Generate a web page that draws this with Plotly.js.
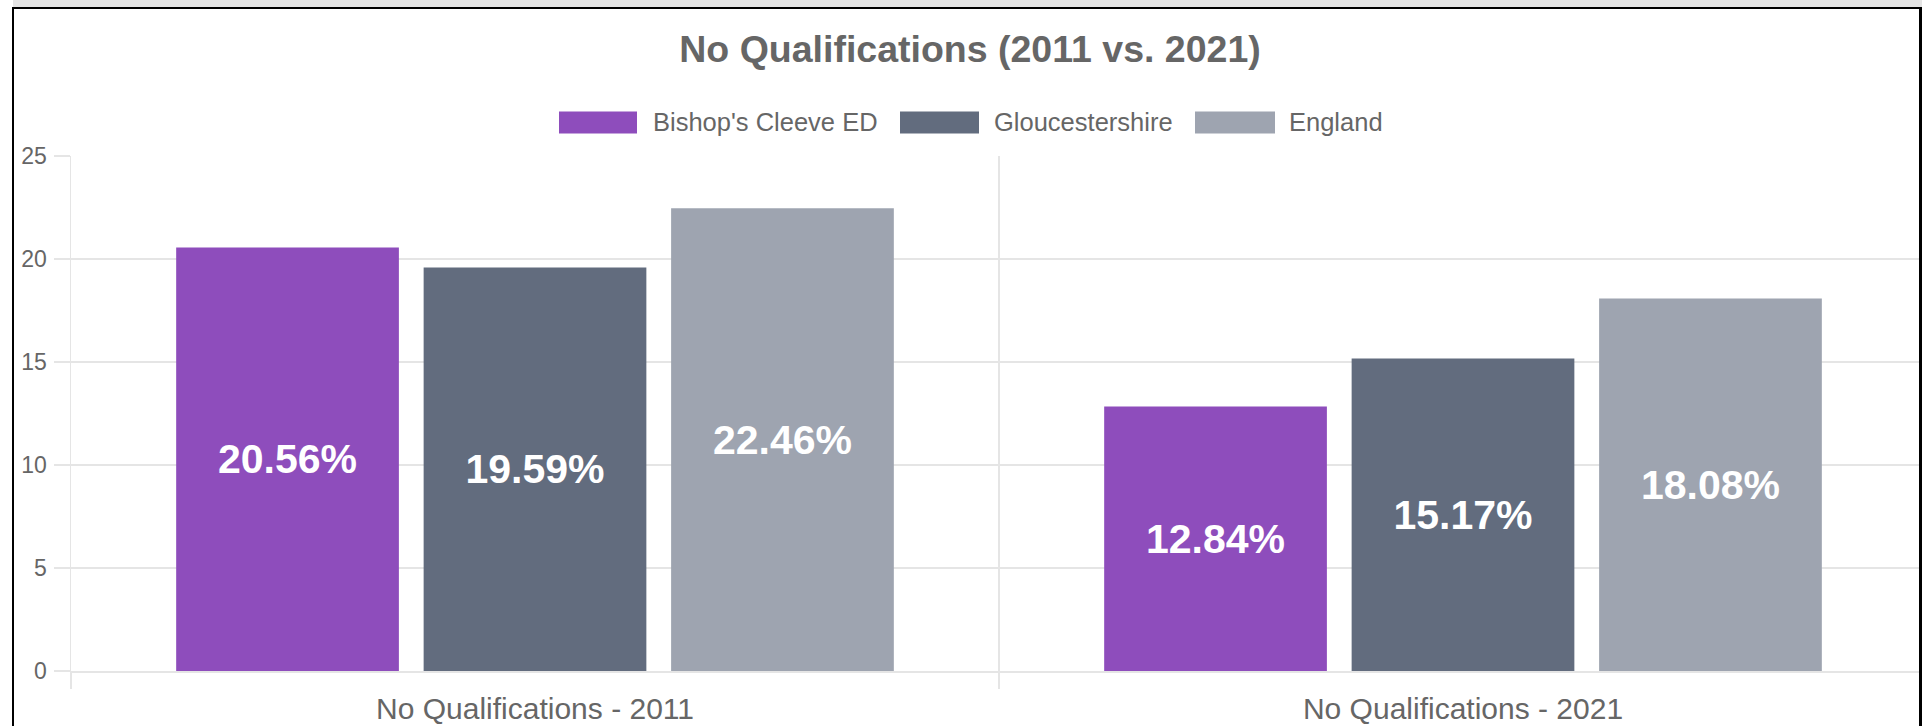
<!DOCTYPE html>
<html>
<head>
<meta charset="utf-8">
<script src="https://cdn.plot.ly/plotly-3.0.1.min.js"></script>
<style>
  html, body { margin: 0; padding: 0; background: #ffffff; overflow: hidden; width: 1922px; height: 726px; }
  #chart { position: absolute; left: 0; top: 0; width: 1940px; height: 726px; }
  .ov { position: absolute; pointer-events: none; z-index: 10; }
</style>
</head>
<body>
<div id="chart"></div>
<div class="ov" style="left:13px;top:0;width:1909px;height:7px;background:#e4e4e4;"></div>
<div class="ov" style="left:12px;top:7px;width:1910px;height:2px;background:#000;"></div>
<div class="ov" style="left:12px;top:7px;width:2px;height:719px;background:#000;"></div>
<div class="ov" style="left:1919px;top:7px;width:3px;height:719px;background:#000;"></div>
<script>
// ---- data ----
const categories = ['No Qualifications - 2011', 'No Qualifications - 2021'];
const seriesNames = ["Bishop's Cleeve ED", 'Gloucestershire', 'England'];
const bishopsCleeveValues = [20.56, 12.84];
const gloucestershireValues = [19.59, 15.17];
const englandValues = [22.46, 18.08];
const seriesColors = ['#8e4dbc', '#626c7e', '#9ea4b0'];
const chartTitle = 'No Qualifications (2011 vs. 2021)';

const FONT = 'Liberation Sans, Arial, Helvetica, sans-serif';
const seriesValues = [bishopsCleeveValues, gloucestershireValues, englandValues];

const traces = seriesNames.map((name, i) => ({
  type: 'bar',
  name: name,
  x: categories,
  y: seriesValues[i],
  marker: { color: seriesColors[i], line: { width: 0 } },
  texttemplate: '%{y:.2f}%',
  textposition: 'inside',
  insidetextanchor: 'middle',
  textangle: 0,
  constraintext: 'none',
  textfont: { family: FONT, size: 41, color: '#ffffff', weight: 'bold' },
  hoverinfo: 'skip',
  showlegend: false
}));

// ---- layout geometry (pixels) ----
const W = 1940, H = 726;
const M = { l: 71, r: 13, t: 156, b: 55 };
const PW = W - M.l - M.r, PH = H - M.t - M.b;
const px2x = px => (px - M.l) / PW;
const py2y = py => (H - M.b - py) / PH;

// custom legend (wide boxes like the original)
const legendBoxes = [[559, 637], [900, 979], [1195, 1275]];
const legendTextX = [651, 992, 1287];
const legendY0 = 111.5, legendY1 = 133.5;
const shapes = [];
const annotations = [];
seriesNames.forEach((name, i) => {
  shapes.push({
    type: 'rect', xref: 'paper', yref: 'paper',
    x0: px2x(legendBoxes[i][0]), x1: px2x(legendBoxes[i][1]),
    y0: py2y(legendY1), y1: py2y(legendY0),
    fillcolor: seriesColors[i], line: { width: 0 }
  });
  annotations.push({
    xref: 'paper', yref: 'paper',
    x: px2x(legendTextX[i]), y: py2y((legendY0 + legendY1) / 2),
    xanchor: 'left', yanchor: 'middle', showarrow: false,
    text: name,
    font: { family: FONT, size: 25.5, color: '#666666' }
  });
});

const gridColor = '#e5e5e5';
const layout = {
  width: W, height: H,
  margin: M,
  paper_bgcolor: '#ffffff',
  plot_bgcolor: '#ffffff',
  showlegend: false,
  barmode: 'group',
  bargap: 0.2,
  bargroupgap: 0.1,
  hovermode: false,
  title: {
    text: chartTitle,
    xref: 'container', yref: 'container',
    x: 0.5, y: 1 - 49 / H, xanchor: 'center', yanchor: 'middle',
    font: { family: FONT, size: 37.5, color: '#666666', weight: 'bold' }
  },
  xaxis: {
    type: 'category',
    range: [-0.5, 1.5],
    tickson: 'boundaries',
    showgrid: true, gridcolor: gridColor, gridwidth: 1.5,
    ticks: 'outside', ticklen: 16, tickcolor: gridColor, tickwidth: 1.5,
    showline: true, linecolor: gridColor, linewidth: 1.5,
    ticklabelstandoff: 10,
    tickfont: { family: FONT, size: 30, color: '#666666' },
    fixedrange: true
  },
  yaxis: {
    range: [0, 25],
    dtick: 5, tick0: 0,
    showgrid: true, gridcolor: gridColor, gridwidth: 1.5,
    zeroline: false,
    ticks: 'outside', ticklen: 16, tickcolor: gridColor, tickwidth: 1.5,
    showline: true, linecolor: gridColor, linewidth: 1.5,
    ticklabelstandoff: 2,
    tickfont: { family: FONT, size: 23, color: '#666666' },
    fixedrange: true
  },
  shapes: shapes,
  annotations: annotations
};

Plotly.newPlot('chart', traces, layout, { staticPlot: true, displayModeBar: false, responsive: false });
</script>
</body>
</html>
